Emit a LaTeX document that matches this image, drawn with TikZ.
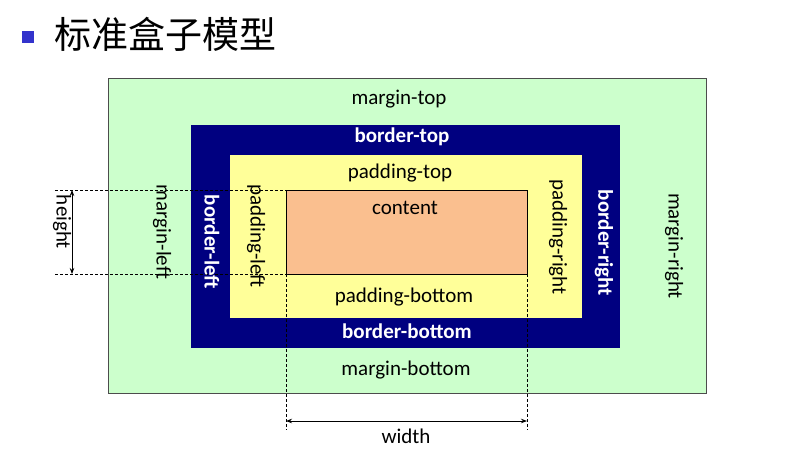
\documentclass[tikz,border=0pt]{standalone}
\usepackage{fontspec}
\setmainfont{Carlito}
\newfontfamily\cjk{Noto Sans CJK SC}
\usetikzlibrary{arrows.meta}
\definecolor{mgreen}{RGB}{204,255,204}
\definecolor{bnavy}{RGB}{0,0,128}
\definecolor{pyellow}{RGB}{255,255,153}
\definecolor{corange}{RGB}{250,191,143}
\definecolor{bullet}{RGB}{51,51,204}
\tikzset{lbl/.style={font=\fontsize{21}{21}\selectfont,inner sep=0pt},
  wl/.style={lbl,text=white,font=\fontsize{21}{21}\selectfont\bfseries},
  dim/.style={densely dashed,black,line width=0.7pt},
  arr/.style={{Stealth[length=6pt]}-{Stealth[length=6pt]},line width=0.8pt}}
\begin{document}
\begin{tikzpicture}[x=1pt,y=-1pt]
\useasboundingbox (0,0) rectangle (789,466);
\fill[white] (0,0) rectangle (789,466);
\fill[bullet] (22,31) rectangle (34,43);
\node[anchor=west,inner sep=0pt,font=\cjk\fontsize{37}{37}\selectfont] (title) at (54,34) {标准盒子模型};
\draw[black!70,fill=mgreen] (108,78) rectangle (706,393);
\fill[bnavy] (191,125) rectangle (620,348);
\fill[pyellow] (230,155) rectangle (582,318);
\draw[black,fill=corange] (286,190) rectangle (527,274);
\coordinate (ctl) at (286,190); \coordinate (cbl) at (286,274); \coordinate (cbr) at (527,274);
\coordinate (ht) at (55,190); \coordinate (hb) at (55,274);
\coordinate (wl) at (286,430); \coordinate (wr) at (527,430);
\draw[dim] (ht) -- (ctl); \draw[dim] (hb) -- (cbl);
\draw[dim] (cbl) -- (wl); \draw[dim] (cbr) -- (wr);
\coordinate (ha) at (72,190); \coordinate (hz) at (72,274);
\draw[arr] (ha) -- (hz);
\coordinate (wa) at (286,421); \coordinate (wz) at (527,421);
\draw[arr] (wa) -- (wz);
\node[lbl] (mt) at (399,99) {margin-top};
\node[lbl] (mb) at (406,370) {margin-bottom};
\node[lbl,rotate=-90] (ml) at (162,232) {margin-left};
\node[lbl,rotate=-90] (mr) at (674,246) {margin-right};
\node[wl] (bt) at (402,137) {border-top};
\node[wl] (bb) at (407,331) {border-bottom};
\node[wl,rotate=-90] (bl) at (212,242) {border-left};
\node[wl,rotate=-90] (br) at (604,243) {border-right};
\node[lbl] (pt) at (400,173) {padding-top};
\node[lbl] (pb) at (404,297) {padding-bottom};
\node[lbl,rotate=-90] (pl) at (256,236) {padding-left};
\node[lbl,rotate=-90] (pr) at (558,237) {padding-right};
\node[lbl] (ct) at (405,208) {content};
\node[lbl,rotate=-90] (h) at (62,222) {height};
\node[lbl] (w) at (406,436) {width};
\end{tikzpicture}
\end{document}
